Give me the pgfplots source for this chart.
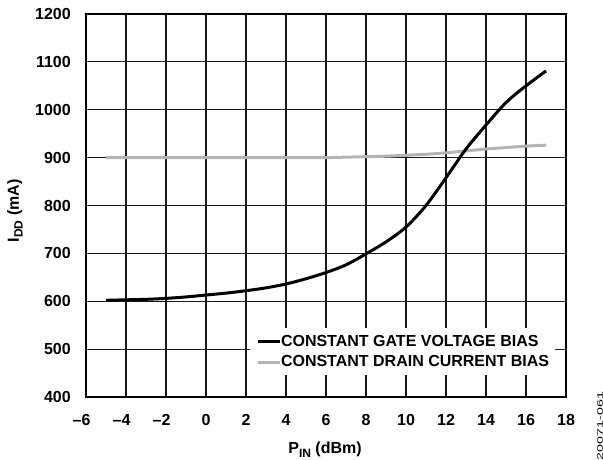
\documentclass[border=0pt]{standalone}
\usepackage{fontspec}
\setmainfont{Liberation Sans}
\usepackage{pgfplots}
\pgfplotsset{compat=1.18}
\definecolor{lgray}{RGB}{180,180,180}
\newcommand{\sub}[1]{\raisebox{-0.22em}{\fontsize{9}{10}\selectfont #1}}
\begin{document}
\begin{tikzpicture}
\path[use as bounding box] (0,0) rectangle (452.25pt,345pt);
\begin{axis}[
  at={(64.5pt,47.25pt)}, anchor=south west,
  scale only axis, width=360pt, height=287.25pt,
  xmin=-6, xmax=18, ymin=400, ymax=1200,
  xtick={-6,-4,...,18},
  xticklabels={\llap{–}6,\llap{–}4,\llap{–}2,0,2,4,6,8,10,12,14,16,18},
  ytick={400,500,...,1200},
  /pgf/number format/assume math mode=true,
  /pgf/number format/1000 sep={},
  grid=major,
  major grid style={black!90, line width=0.9pt},
  axis line style={black, line width=1.5pt},
  major tick length=0pt,
  tick label style={font=\bfseries\fontsize{12}{14}\selectfont},
  xticklabel style={anchor=north, inner sep=0pt, yshift=-12.75pt},
  yticklabel style={anchor=east, inner sep=0pt, xshift=-11.25pt},
  xlabel={P\sub{IN} (dBm)},
  ylabel={I\sub{DD} (mA)},
  label style={font=\bfseries\fontsize{12}{14}\selectfont},
  xlabel style={at={(axis description cs:0.498,-0.138)}, anchor=center},
  ylabel style={at={(axis description cs:-0.148,0.486)}, anchor=center},
  legend style={at={(rel axis cs:0.3417,0.1802)}, anchor=north west, draw=none, fill=white,
    inner xsep=4.5pt, inner ysep=5pt, row sep=5.6pt,
    font=\bfseries\fontsize{12}{14}\selectfont,
    nodes={inner sep=0pt, font=\bfseries\fontsize{12}{14}\selectfont}},
  legend cell align=left,
  legend image code/.code={\draw[#1] (0pt,0pt) -- (16.3pt,0pt);},
]
\addlegendimage{black, line width=2.25pt}
\addlegendentry{\bfseries CONSTANT GATE VOLTAGE BIAS}
\addlegendimage{lgray, line width=2.25pt}
\addlegendentry{\bfseries CONSTANT DRAIN CURRENT BIAS}
\addplot[lgray, line width=2.25pt, smooth, forget plot] coordinates {
(-5,900) (-4,900) (-3,900) (-2,900) (-1,900) (0,900) (1,900) (2,900) (3,900) (4,900) (5,900)
(6,900) (7,901) (8,902) (9,903) (10,905) (11,907) (12,910) (13,914) (14,918) (15,921) (16,924) (17,926)
};
\addplot[black, line width=2.25pt, smooth, forget plot] coordinates {
(-5,602) (-4,603) (-3,604) (-2,606) (-1,609) (0,613) (1,617) (2,622) (3,628) (4,636) (5,647)
(6,660) (7,676) (8,699) (9,724) (10,755) (11,800) (12,858) (13,918) (14,968) (15,1015) (16,1050) (17,1081)
};
\end{axis}
\node[rotate=90, inner sep=0pt] at (450pt,25.5pt) {\fontsize{6}{7}\selectfont\scalebox{1.78}[1]{20071-061}};
\end{tikzpicture}
\end{document}
